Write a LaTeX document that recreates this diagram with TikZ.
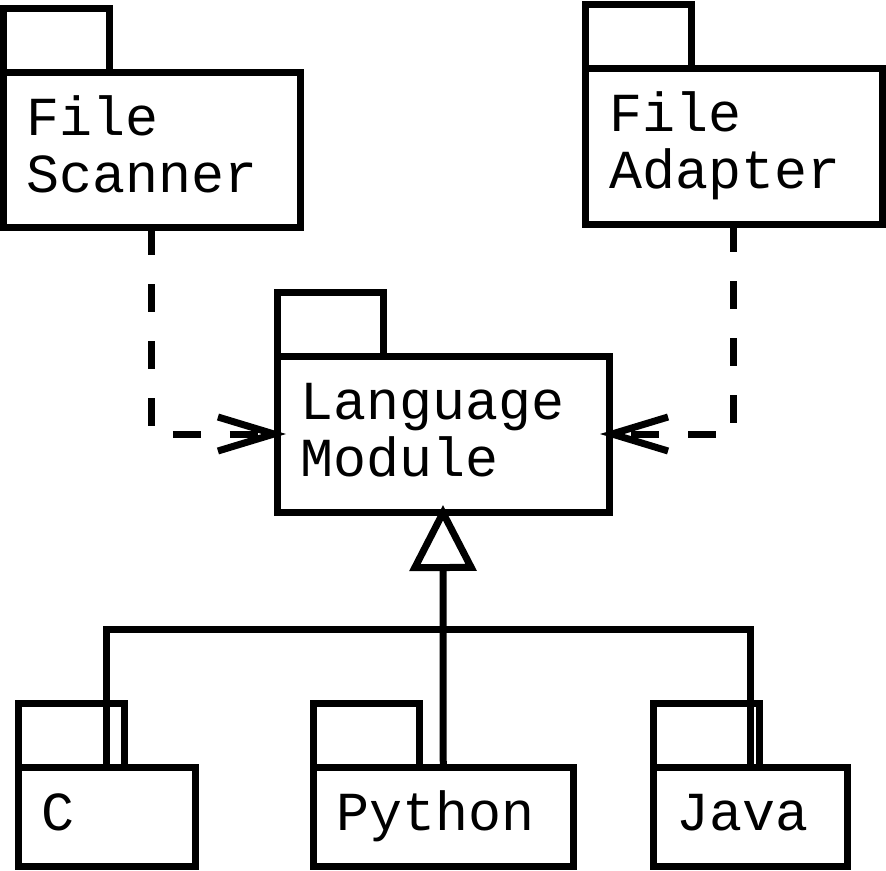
\documentclass[tikz,border=0pt]{standalone}
\usepackage{fontspec}
\setmonofont{Liberation Mono}
\usepackage{tikz}
\usetikzlibrary{arrows.meta,positioning,calc}
\tikzstyle{pkg}=[draw,rectangle,anchor=north west,inner sep=0pt,outer sep=0pt]
\tikzstyle{pkgtab}=[draw,rectangle,minimum width=106pt,minimum height=64pt,inner sep=0pt,outer sep=0pt]
\tikzstyle{pkgname}=[anchor=base west,inner sep=0pt,align=left,font=\ttfamily\fontsize{55}{57}\selectfont]
\tikzstyle{depend}=[dash pattern=on 28pt off 29pt,shorten >=-9pt,-{Straight Barb[length=56pt,width=34pt]}]
\tikzstyle{inherit}=[shorten >=-7pt,-{Triangle[length=66pt,width=66pt,fill=white]}]

\begin{document}
\begin{tikzpicture}[x=1pt,y=-1pt,line width=7pt]
    \useasboundingbox (0,0) rectangle (886,870);
    % packages
    \node [pkg,minimum width=296.5pt,minimum height=155pt] (scanner) at (3.5,72) {};
    \node [pkg,minimum width=296.5pt,minimum height=156pt] (adapter) at (585.5,68) {};
    \node [pkg,minimum width=332pt,minimum height=156pt] (lang) at (277,356) {};
    \node [pkg,minimum width=177.5pt,minimum height=99pt] (c) at (18,767) {};
    \node [pkg,minimum width=260.5pt,minimum height=99pt] (python) at (313,767) {};
    \node [pkg,minimum width=194pt,minimum height=99pt] (java) at (653,767) {};
    % tabs
    \foreach \p in {scanner,adapter,lang,c,python,java}
      \node [pkgtab,above right=0pt and 0pt of \p.north west] (\p-tab) {};
    % names (base = last line)
    \node [pkgname] (scanner-name) at ($(scanner.north west)+(20,120)$) {File\\Scanner};
    \node [pkgname] (adapter-name) at ($(adapter.north west)+(20,120)$) {File\\Adapter};
    \node [pkgname] (lang-name) at ($(lang.north west)+(20,120)$) {Language\\Module};
    \node [pkgname] (c-name) at ($(c.north west)+(20,63)$) {C};
    \node [pkgname] (python-name) at ($(python.north west)+(20,63)$) {Python};
    \node [pkgname] (java-name) at ($(java.north west)+(20,63)$) {Java};
    % dependencies
    \draw [depend] (scanner.south) |- (lang.west);
    \draw [depend] (adapter.south) |- (lang.east);
    % generalisation
    \coordinate (hub) at ($(lang.south)+(0,117)$);
    \draw (c.north) |- (hub) -| (java.north);
    \draw [inherit] (python.north) -- (lang.south);
\end{tikzpicture}
\end{document}
